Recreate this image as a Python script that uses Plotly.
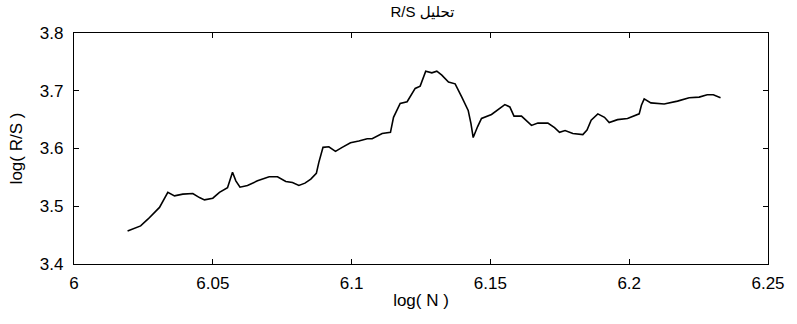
import plotly.graph_objects as go

log_n = [6.0193, 6.0240, 6.0267, 6.0308, 6.0338, 6.0362, 6.0392, 6.0428, 6.0452, 6.0470,
         6.0500, 6.0524, 6.0553, 6.0571, 6.0583, 6.0598, 6.0625, 6.0661, 6.0703, 6.0733,
         6.0763, 6.0787, 6.0810, 6.0832, 6.0853, 6.0873, 6.0882, 6.0897, 6.0918, 6.0942,
         6.0966, 6.0996, 6.1026, 6.1056, 6.1074, 6.1110, 6.1140, 6.1151, 6.1175, 6.1200,
         6.1229, 6.1247, 6.1267, 6.1289, 6.1307, 6.1325, 6.1349, 6.1373, 6.1397, 6.1420,
         6.1430, 6.1438, 6.1454, 6.1468, 6.1504, 6.1534, 6.1552, 6.1570, 6.1585, 6.1612,
         6.1636, 6.1648, 6.1671, 6.1707, 6.1731, 6.1749, 6.1769, 6.1797, 6.1833, 6.1848,
         6.1863, 6.1887, 6.1911, 6.1928, 6.1958, 6.1994, 6.2036, 6.2044, 6.2054, 6.2078,
         6.2126, 6.2174, 6.2216, 6.2252, 6.2281, 6.2303, 6.2329]
log_rs = [3.457, 3.466, 3.478, 3.498, 3.524, 3.518, 3.521, 3.522, 3.515, 3.511,
          3.514, 3.524, 3.532, 3.559, 3.544, 3.533, 3.536, 3.544, 3.551, 3.551,
          3.543, 3.541, 3.536, 3.540, 3.547, 3.557, 3.576, 3.602, 3.603, 3.595,
          3.602, 3.610, 3.613, 3.617, 3.617, 3.626, 3.628, 3.654, 3.678, 3.681,
          3.704, 3.708, 3.734, 3.731, 3.734, 3.727, 3.715, 3.712, 3.689, 3.666,
          3.643, 3.619, 3.638, 3.652, 3.659, 3.669, 3.676, 3.672, 3.656, 3.656,
          3.646, 3.640, 3.644, 3.644, 3.636, 3.628, 3.631, 3.626, 3.624, 3.632,
          3.649, 3.660, 3.654, 3.645, 3.650, 3.652, 3.660, 3.675, 3.686, 3.679,
          3.677, 3.682, 3.688, 3.689, 3.693, 3.693, 3.688]

x_ticks = [6, 6.05, 6.1, 6.15, 6.2, 6.25]
x_tick_labels = ["6", "6.05", "6.1", "6.15", "6.2", "6.25"]
y_ticks = [3.4, 3.5, 3.6, 3.7, 3.8]
y_tick_labels = ["3.4", "3.5", "3.6", "3.7", "3.8"]

font_fam = "Arial, Liberation Sans, DejaVu Sans, sans-serif"

fig = go.Figure()
fig.add_trace(go.Scatter(x=log_n, y=log_rs, mode="lines",
                         line=dict(color="black", width=1.6), showlegend=False))

axis_common = dict(showgrid=False, zeroline=False, showline=True, linecolor="black",
                   linewidth=1.2, mirror="ticks", ticks="inside", ticklen=5,
                   tickcolor="black", tickfont=dict(family=font_fam, size=17, color="black"))

fig.update_xaxes(range=[6, 6.25], tickvals=x_ticks, ticktext=x_tick_labels,
                 ticklabelstandoff=3,
                 title=dict(text="log( N )", font=dict(family=font_fam, size=17, color="black"),
                            standoff=2), **axis_common)
fig.update_yaxes(range=[3.4, 3.8], tickvals=y_ticks, ticktext=y_tick_labels,
                 ticklabelstandoff=6,
                 title=dict(text="log( R/S )", font=dict(family=font_fam, size=17, color="black"),
                            standoff=12), **axis_common)

fig.update_layout(
    width=797, height=324,
    margin=dict(l=74, r=26, t=33, b=60),
    paper_bgcolor="white", plot_bgcolor="white",
    title=dict(text="R/S تحليل", x=0.53, xanchor="center", y=0.965, yanchor="middle",
               font=dict(family=font_fam, size=15, color="black")),
)

fig.write_html("out.html")
